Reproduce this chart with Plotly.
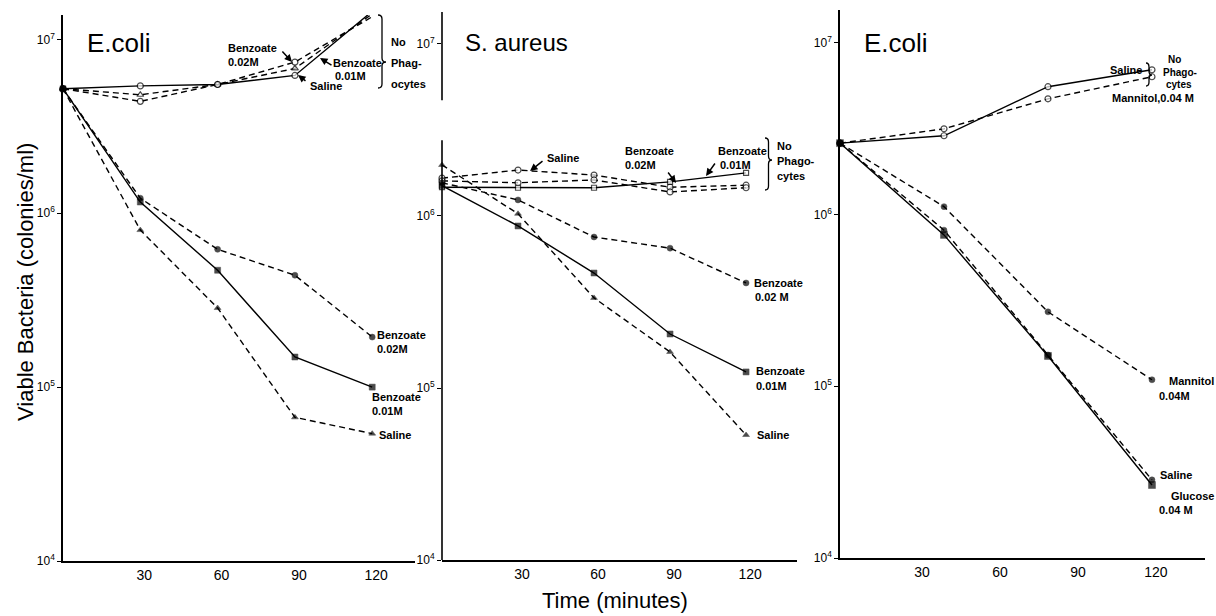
import plotly.graph_objects as go

# ---------------- data ----------------
times_ab = [0, 30, 60, 90, 120]          # panels 1 and 2 (minutes)
times_c = [0, 40, 80, 120]               # panel 3 (minutes)
x_ticks = [30, 60, 90, 120]
y_ticks = [1e4, 1e5, 1e6, 1e7]
y_tick_text = ["10<sup>4</sup>", "10<sup>5</sup>", "10<sup>6</sup>", "10<sup>7</sup>"]

# Panel 1 - E. coli, benzoate
ec_saline_noph = [5.2e6, 5.4e6, 5.5e6, 6.2e6, 1.45e7]
ec_benz02_noph = [5.2e6, 4.4e6, 5.5e6, 7.4e6, 1.35e7]
ec_benz01_noph = [5.2e6, 4.8e6, 5.5e6, 6.8e6, 1.40e7]
ec_benz02 = [5.2e6, 1.22e6, 6.2e5, 4.4e5, 1.94e5]
ec_benz01 = [5.2e6, 1.16e6, 4.7e5, 1.49e5, 1.0e5]
ec_saline = [5.2e6, 8.0e5, 2.85e5, 6.7e4, 5.4e4]

# Panel 2 - S. aureus, benzoate
sa_saline_noph = [1.66e6, 1.85e6, 1.73e6, 1.47e6, 1.51e6]
sa_benz02_noph = [1.60e6, 1.56e6, 1.62e6, 1.38e6, 1.46e6]
sa_benz01_noph = [1.47e6, 1.46e6, 1.46e6, 1.58e6, 1.78e6]
sa_benz02 = [1.56e6, 1.24e6, 7.55e5, 6.5e5, 4.08e5]
sa_benz01 = [1.50e6, 8.75e5, 4.66e5, 2.06e5, 1.24e5]
sa_saline = [1.98e6, 1.03e6, 3.34e5, 1.62e5, 5.33e4]

# Panel 3 - E. coli, mannitol / glucose
ec2_saline_noph = [2.6e6, 2.87e6, 5.54e6, 6.95e6]
ec2_mannitol_noph = [2.6e6, 3.15e6, 4.71e6, 6.33e6]
ec2_mannitol = [2.6e6, 1.11e6, 2.71e5, 1.09e5]
ec2_saline = [2.6e6, 8.1e5, 1.52e5, 2.85e4]
ec2_glucose = [2.6e6, 7.6e5, 1.5e5, 2.66e4]

# ---------------- figure ----------------
W, H = 1216, 616
FONT = "Liberation Sans"


def px(x):
    return x / W


def py(y):
    return 1 - y / H


fig = go.Figure()

OPEN = dict(color="white", line=dict(color="black", width=1.2))
FILL = dict(color="black", line=dict(color="black", width=0.5))


def add_series(xa, ya, t, v, dash, symbol, style, size=6, hide_last=False):
    sizes = [size] * len(v)
    if hide_last:
        sizes[-1] = 0
    fig.add_trace(go.Scatter(
        x=t, y=v, xaxis=xa, yaxis=ya, mode="lines+markers",
        line=dict(color="black", width=1.4, dash=dash),
        marker=dict(symbol=symbol, size=sizes, **style),
        cliponaxis=False, hoverinfo="skip", showlegend=False))


DASH = "6px,4px"

# panel 1
add_series("x", "y", times_ab, ec_benz02_noph, DASH, "circle", OPEN, hide_last=True)
add_series("x", "y", times_ab, ec_benz01_noph, DASH, "triangle-up", OPEN, hide_last=True)
add_series("x", "y", times_ab, ec_saline_noph, "solid", "circle", OPEN, hide_last=True)
add_series("x", "y", times_ab, ec_benz02, DASH, "circle", FILL, size=6)
add_series("x", "y", times_ab, ec_benz01, "solid", "square", FILL, size=6)
add_series("x", "y", times_ab, ec_saline, DASH, "triangle-up", FILL, size=6)

# panel 2
add_series("x2", "y2", times_ab, sa_saline_noph, DASH, "circle", OPEN)
add_series("x2", "y2", times_ab, sa_benz02_noph, DASH, "circle", OPEN)
add_series("x2", "y2", times_ab, sa_benz01_noph, "solid", "square", OPEN, size=5)
add_series("x2", "y2", times_ab, sa_benz02, DASH, "circle", FILL, size=6)
add_series("x2", "y2", times_ab, sa_benz01, "solid", "square", FILL, size=6)
add_series("x2", "y2", times_ab, sa_saline, DASH, "triangle-up", FILL, size=6)

# panel 3
add_series("x3", "y3", times_c, ec2_saline_noph, "solid", "circle", OPEN)
add_series("x3", "y3", times_c, ec2_mannitol_noph, DASH, "circle", OPEN)
add_series("x3", "y3", times_c, ec2_mannitol, DASH, "circle", FILL, size=6)
add_series("x3", "y3", times_c, ec2_saline, DASH, "circle", FILL, size=6)
add_series("x3", "y3", times_c, ec2_glucose, "solid", "square", FILL, size=7)


def xaxis(domain, rng, anchor):
    return dict(domain=domain, range=rng, anchor=anchor, tickvals=x_ticks,
                ticktext=[str(v) for v in x_ticks], showgrid=False, zeroline=False,
                showline=True, linecolor="black", linewidth=1.6, ticks="",
                ticklabelshift=4,
                tickfont=dict(family=FONT, size=14, color="black"))


def yaxis(domain, rng, anchor, showline=True):
    return dict(domain=domain, range=rng, anchor=anchor, type="log",
                tickvals=y_ticks, ticktext=y_tick_text, showgrid=False, zeroline=False,
                showline=showline, linecolor="black", linewidth=1.6,
                ticks="outside", ticklen=4, tickwidth=1.2, tickcolor="black",
                tickfont=dict(family=FONT, size=12, color="black"))


fig.update_layout(
    width=W, height=H, autosize=False,
    margin=dict(l=0, r=0, t=0, b=0, autoexpand=False),
    paper_bgcolor="white", plot_bgcolor="white",
    showlegend=False,
    xaxis=xaxis([px(63), px(415)], [0, 136.6], "y"),
    yaxis=yaxis([py(561), py(15)], [4, 7.14], "x"),
    xaxis2=xaxis([px(442), px(797)], [0, 140.1], "y2"),
    yaxis2=yaxis([py(560), py(12)], [4, 7.186], "x2", showline=False),
    xaxis3=xaxis([px(840), px(1205)], [0, 140.4], "y3"),
    yaxis3=yaxis([py(558), py(10)], [4, 7.19], "x3"),
)

shapes = []
# broken y axis of panel 2
for y0, y1 in [(0, 0.766), (0.839, 1.0)]:
    shapes.append(dict(type="line", xref="x2 domain", yref="y2 domain",
                       x0=0, x1=0, y0=y0, y1=y1,
                       line=dict(color="black", width=1.6)))


def brace(x, yt, yb, ym, w):
    xm = x + w / 2
    r = 4
    path = (f"M {px(x)},{py(yt)} Q {px(xm)},{py(yt)} {px(xm)},{py(yt + r)} "
            f"L {px(xm)},{py(ym - r)} Q {px(xm)},{py(ym)} {px(x + w)},{py(ym)} "
            f"Q {px(xm)},{py(ym)} {px(xm)},{py(ym + r)} "
            f"L {px(xm)},{py(yb - r)} Q {px(xm)},{py(yb)} {px(x)},{py(yb)}")
    return dict(type="path", xref="paper", yref="paper", path=path,
                line=dict(color="black", width=1.3))


shapes.append(brace(378, 15, 88, 62, 8))
shapes.append(brace(765, 138, 190, 160, 7))
shapes.append(brace(1146, 63, 86, 75, 6))
fig.update_layout(shapes=shapes)

annotations = []


def label(text, x, y, size=11, bold=True, anchor="left"):
    t = f"<b>{text}</b>" if bold else text
    annotations.append(dict(text=t, x=px(x), y=py(y), xref="paper", yref="paper",
                            xanchor=anchor, yanchor="middle", showarrow=False,
                            font=dict(family=FONT, size=size, color="black")))


def arrow(tail, head):
    annotations.append(dict(text="", x=px(head[0]), y=py(head[1]), xref="paper",
                            yref="paper", ax=tail[0] - head[0], ay=tail[1] - head[1],
                            axref="pixel", ayref="pixel", showarrow=True,
                            arrowhead=2, arrowsize=1, arrowwidth=1.5,
                            arrowcolor="black", standoff=0, startstandoff=0))


# titles
label("E.coli", 85, 43, size=26, bold=False)
label("S. aureus", 463, 43, size=24, bold=False)
label("E.coli", 862, 43, size=26, bold=False)

# panel 1 labels
label("Benzoate", 226, 48)
label("0.02M", 226, 62)
arrow((281, 50), (292, 62))
label("Benzoate", 331, 63)
label("0.01M", 333, 76)
arrow((333, 66), (320, 58))
label("Saline", 308, 86)
arrow((307, 82), (298, 75))
label("No", 389, 42)
label("Phag-", 389, 63)
label("ocytes", 389, 84)
label("Benzoate", 375, 335)
label("0.02M", 375, 349)
label("Benzoate", 370, 397)
label("0.01M", 370, 411)
label("Saline", 377, 435)

# panel 2 labels
label("Saline", 545, 158)
arrow((544, 160), (530, 171))
label("Benzoate", 623, 151)
label("0.02M", 623, 165)
arrow((667, 171), (676, 183))
label("Benzoate", 716, 151)
label("0.01M", 718, 165)
arrow((716, 162), (706, 176))
label("No", 775, 146)
label("Phago-", 775, 161)
label("cytes", 775, 176)
label("Benzoate", 752, 283)
label("0.02 M", 753, 297)
label("Benzoate", 754, 371)
label("0.01M", 754, 386)
label("Saline", 755, 435)

# panel 3 labels
label("Saline", 1144, 70, anchor="right")
label("No", 1166, 60, size=10)
label("Phago-", 1161, 72, size=10)
label("cytes", 1164, 84, size=10)
label("Mannitol,0.04 M", 1110, 98)
label("Mannitol", 1167, 381)
label("0.04M", 1157, 396)
label("Saline", 1158, 475)
label("Glucose", 1169, 496)
label("0.04 M", 1157, 510)

# axis titles
annotations.append(dict(text="Time (minutes)", x=px(615), y=py(600), xref="paper",
                        yref="paper", showarrow=False, xanchor="center", yanchor="middle",
                        font=dict(family=FONT, size=22, color="black")))
annotations.append(dict(text="Viable Bacteria (colonies/ml)", x=px(25), y=py(282),
                        xref="paper", yref="paper", showarrow=False, textangle=-90,
                        xanchor="center", yanchor="middle",
                        font=dict(family=FONT, size=22, color="black")))

fig.update_layout(annotations=annotations)

fig.write_html(
    "out.html",
    config={"displayModeBar": False},
    post_script="document.body.style.margin='0';document.body.style.overflow='hidden';",
)
